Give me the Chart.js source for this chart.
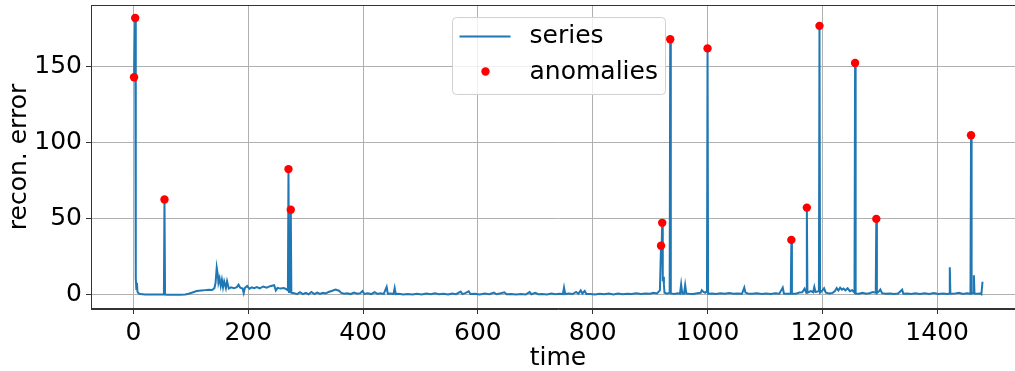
<!DOCTYPE html>
<html>
<head>
<meta charset="utf-8">
<script src="https://cdn.jsdelivr.net/npm/chart.js@4"></script>
<style>
  html, body { margin: 0; padding: 0; background: #fff; overflow: hidden; }
  #wrap { width: 1035px; height: 371px; }
</style>
</head>
<body>
<div id="wrap"><canvas id="chart" width="1035" height="371"></canvas></div>
<script>
// reconstruction error over time
const seriesX = [
  1, 3, 4, 5, 6, 7, 9, 12, 20, 30, 40, 50, 53, 54, 55, 60, 70, 80, 90, 96,
  104, 110, 118, 125, 131, 137, 141, 143, 145, 147, 148, 150, 152, 154, 156, 158, 161, 163, 166, 170,
  175, 180, 183, 186, 190, 192, 194, 198, 202, 206, 210, 215, 220, 226, 232, 238, 245, 248, 251, 256,
  262, 266, 269, 270, 271, 273, 274, 275, 280, 285, 290, 295, 300, 305, 310, 315, 320, 325, 330, 335, 340,
  345, 352, 358, 362, 367, 372, 378, 384, 390, 395, 399, 402, 408, 414, 420, 425, 430, 436, 441, 443,
  448, 453, 455, 457, 462, 470, 478, 486, 494, 502, 510, 518, 525, 532, 540, 548, 555, 562, 570, 573,
  578, 584, 587, 595, 603, 612, 620, 628, 632, 640, 646, 650, 658, 666, 675, 683, 690, 693, 700, 705,
  712, 720, 728, 735, 742, 748, 750, 752, 758, 765, 771, 775, 779, 782, 786, 789, 796, 804, 812, 820,
  828, 836, 844, 852, 860, 868, 876, 884, 892, 900, 906, 912, 917, 918, 919, 920, 921, 922, 923, 924, 925,
  930, 934, 935, 936, 942, 948, 952, 954, 956, 959, 961, 963, 968, 975, 982, 988, 990, 993, 996, 999,
  1000, 1001, 1008, 1015, 1022, 1030, 1038, 1045, 1052, 1060, 1064, 1066, 1070, 1078, 1086, 1094, 1102, 1110, 1118, 1125,
  1131, 1133, 1138, 1145, 1146, 1147, 1154, 1160, 1165, 1169, 1172, 1173, 1174, 1180, 1184, 1186, 1188, 1194, 1195, 1196,
  1200, 1203, 1206, 1212, 1218, 1222, 1225, 1228, 1231, 1234, 1237, 1240, 1244, 1248, 1252, 1256, 1257, 1258, 1264, 1270,
  1276, 1282, 1288, 1293, 1294, 1295, 1299, 1301, 1304, 1310, 1318, 1325, 1332, 1339, 1341, 1348, 1355, 1362, 1370, 1378,
  1386, 1394, 1402, 1410, 1418, 1421, 1422, 1423, 1430, 1438, 1445, 1452, 1458, 1459, 1460, 1463, 1464, 1465, 1470, 1475,
  1477, 1479
];
const seriesY = [
  143, 182, 11, 4, 8, 2, 1, 0.6, 0.4, 0.3, 0.3, 0.3, 0.3, 62.7, 0.3, 0.2, 0.2, 0.2, 0.3, 0.8,
  1.8, 2.6, 2.9, 3.2, 3.5, 3.3, 4.5, 8, 18, 13, 8, 11, 6, 10, 5, 9, 4.5, 9, 4.2, 5,
  4.4, 5.2, 6.8, 4.8, 4.2, 1.3, 4.6, 5.9, 4.1, 5, 4.5, 5.2, 4.4, 5.6, 4.8, 5.8, 6.4, 3, 4.7, 4.2,
  4.6, 3.8, 3, 82.7, 2, 2, 56, 1.5, 1.2, 0.6, 1.8, 0.6, 1.4, 0.5, 2, 0.6, 1.6, 0.7, 1.5, 1, 2,
  2.6, 3.5, 2.8, 1.4, 0.8, 1.2, 0.6, 1.6, 0.8, 1.2, 2.6, 0.7, 1.1, 0.6, 1.8, 0.7, 1.2, 0.7, 5.3, 0.8,
  1, 0.6, 4.6, 0.6, 0.8, 0.4, 0.7, 0.4, 0.8, 0.4, 0.9, 0.5, 1.2, 0.5, 0.8, 0.4, 1, 0.5, 2.2, 0.6,
  1.2, 2.4, 0.6, 0.8, 0.4, 0.9, 0.5, 1.6, 0.5, 1.2, 1.8, 0.5, 0.7, 0.3, 0.6, 0.3, 1.9, 0.5, 1.4, 0.5,
  0.6, 0.4, 1, 0.5, 0.8, 0.6, 4.9, 0.6, 0.9, 0.6, 2, 0.8, 3, 1, 2.6, 0.6, 0.7, 0.4, 0.8, 0.5,
  0.9, 0.4, 0.9, 0.5, 0.8, 0.6, 1.2, 0.6, 0.9, 0.8, 1.4, 1, 3, 18, 32.4, 30, 47.4, 9, 12, 7, 1.5,
  0.8, 1.5, 168, 1, 0.7, 1.2, 0.8, 7, 0.9, 0.8, 6.5, 1, 0.8, 0.6, 1.2, 1.4, 3.1, 2, 1.5, 2.5,
  162, 0.8, 1, 0.7, 1.2, 0.8, 1.3, 0.9, 1, 0.8, 4.9, 1.6, 1, 0.8, 1.2, 0.6, 1, 0.7, 1.1, 0.8,
  4.9, 1, 0.8, 1, 36.2, 1, 0.8, 1.6, 1.8, 4.2, 1.5, 57.4, 1.5, 2.6, 1.8, 5.3, 2, 2.5, 176.8, 1.5,
  3, 4.4, 1.5, 1, 1.4, 2.6, 4.5, 3, 4.8, 3.5, 4.2, 3, 4.4, 2.5, 3.2, 1.5, 152.4, 1, 0.8, 1.5,
  0.8, 1.2, 2, 1.5, 50, 1.2, 2.5, 3.6, 1.2, 0.8, 1, 0.6, 1, 3.5, 0.8, 0.9, 0.6, 1.2, 0.6, 1.1,
  0.7, 1.3, 0.6, 1, 0.7, 1, 18.2, 0.8, 0.9, 1.4, 0.6, 1.2, 0.8, 105, 1, 1.5, 13, 1, 0.8, 1,
  0.5, 8.7
];
const anomalyX = [1, 3, 54, 270, 274, 919, 921, 935, 1000, 1146, 1173, 1195, 1257, 1294, 1459];
const anomalyY = [143, 182, 62.7, 82.7, 56, 32.4, 47.4, 168, 162, 36.2, 57.4, 176.8, 152.4, 50, 105];
const xTicks = [0, 200, 400, 600, 800, 1000, 1200, 1400];
const yTicks = [0, 50, 100, 150];

const BLUE = '#1f77b4';
const FONT = "'DejaVu Sans', sans-serif";

const frame = {
  id: 'frame',
  afterDatasetsDraw(chart) {
    const { ctx, chartArea: a } = chart;
    ctx.save();
    ctx.strokeStyle = '#333';
    ctx.lineWidth = 1;
    ctx.strokeRect(a.left + 0.5, a.top + 0.5, a.right - a.left - 1, a.bottom - a.top - 1);
    ctx.restore();
  }
};

const boxLegend = {
  id: 'boxLegend',
  afterDraw(chart) {
    const { ctx, chartArea: a } = chart;
    const w = 213, h = 77;
    const x = Math.round((a.left + a.right) / 2 - w / 2) + 0.5;
    const y = a.top + 12.5;
    ctx.save();
    ctx.fillStyle = 'rgba(255,255,255,0.8)';
    ctx.strokeStyle = '#d0d0d0';
    ctx.lineWidth = 1;
    ctx.beginPath();
    ctx.roundRect(x, y, w, h, 4);
    ctx.fill();
    ctx.stroke();

    ctx.strokeStyle = BLUE;
    ctx.lineWidth = 2;
    ctx.beginPath();
    ctx.moveTo(x + 7, y + 19);
    ctx.lineTo(x + 58, y + 19);
    ctx.stroke();

    ctx.fillStyle = '#ff0000';
    ctx.beginPath();
    ctx.arc(x + 33, y + 54, 4.2, 0, Math.PI * 2);
    ctx.fill();

    ctx.fillStyle = '#000';
    ctx.font = '25px ' + FONT;
    ctx.textBaseline = 'middle';
    ctx.fillText('series', x + 77, y + 19);
    ctx.fillText('anomalies', x + 77, y + 55);
    ctx.restore();
  }
};

const ctx = document.getElementById('chart').getContext('2d');
const chart = new Chart(ctx, {
  type: 'scatter',
  data: {
    datasets: [
      {
        label: 'series',
        data: seriesX.map((x, i) => ({ x: x, y: seriesY[i] })),
        showLine: true,
        borderColor: BLUE,
        borderWidth: 2,
        pointRadius: 0,
        tension: 0,
        order: 2
      },
      {
        label: 'anomalies',
        data: anomalyX.map((x, i) => ({ x: x, y: anomalyY[i] })),
        showLine: false,
        backgroundColor: '#ff0000',
        borderWidth: 0,
        pointRadius: 4.2,
        order: 1
      }
    ]
  },
  options: {
    responsive: false,
    devicePixelRatio: 1,
    animation: false,
    layout: { padding: { left: 0, top: 5, right: 10, bottom: 0 } },
    plugins: { legend: { display: false }, tooltip: { enabled: false } },
    scales: {
      x: {
        type: 'linear',
        min: -74,
        max: 1553,
        afterBuildTicks: s => { s.ticks = xTicks.map(v => ({ value: v })); },
        afterFit: s => { s.height = 62; s.paddingLeft = 0; s.paddingRight = 0; },
        grid: { color: '#b0b0b0', lineWidth: 1, tickLength: 5, tickColor: '#333' },
        border: { display: true, color: '#333', width: 1 },
        ticks: { autoSkip: false, maxRotation: 0, padding: 4, color: '#000', font: { family: FONT, size: 25 },
                 callback: v => String(v) },
        title: { display: true, text: 'time', color: '#000', font: { family: FONT, size: 25 }, padding: { top: 0, bottom: -2 } }
      },
      y: {
        min: -9.2,
        max: 190.5,
        afterBuildTicks: s => { s.ticks = yTicks.map(v => ({ value: v })); },
        afterFit: s => { s.width = 91; s.paddingTop = 0; s.paddingBottom = 0; },
        grid: { color: '#b0b0b0', lineWidth: 1, tickLength: 5, tickColor: '#333' },
        border: { display: true, color: '#333', width: 1 },
        ticks: { autoSkip: false, padding: 4, color: '#000', font: { family: FONT, size: 25 },
                 callback: v => String(v) },
        title: { display: true, text: 'recon. error', color: '#000', font: { family: FONT, size: 25 }, padding: { top: 4, bottom: 0 } }
      }
    }
  },
  plugins: [frame, boxLegend]
});
</script>
</body>
</html>
